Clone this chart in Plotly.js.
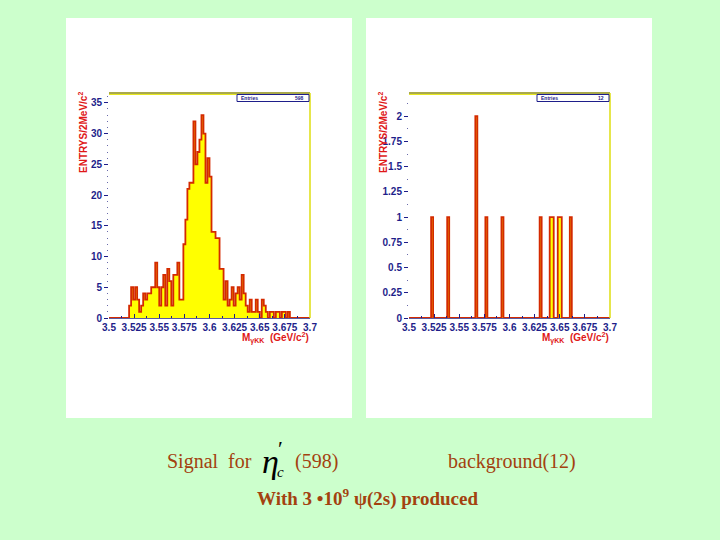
<!DOCTYPE html>
<html><head><meta charset="utf-8">
<script src="https://cdn.plot.ly/plotly-3.0.1.min.js"></script>
<style>html,body{margin:0;padding:0;background:#ccffcc;}#chart{width:720px;height:540px;}</style>
</head><body><div id="chart"></div>
<script>
// Binning: 100 bins of 2 MeV from 3.5 to 3.7 GeV/c^2
const binStart = 3.5;
const binWidth = 0.002;
// Signal histogram counts (598 entries)
const signalCounts = [
  0,0,0,0,0,0,0,0,0,0,
  2,5,3,5,3,1,2,4,3,4,
  4,5,5,9,5,2,5,7,2,8,
  6,2,7,7,9,3,3,12,16,21,
  22,22,32,25,27,29,33,30,22,26,
  23,14,14,13,13,8,8,3,6,2,
  3,5,2,4,5,3,7,4,2,1,
  3,1,1,3,1,0,3,2,1,0,
  1,1,0,1,1,0,1,1,0,1,
  0,0,0,0,0,0,0,0,0,0
];
// Background histogram counts (12 entries)
const backgroundCounts = [
  0,0,0,0,0,0,0,0,0,0,
  0,1,0,0,0,0,0,0,0,1,
  0,0,0,0,0,0,0,0,0,0,
  0,0,0,2,0,0,0,0,1,0,
  0,0,0,0,0,0,1,0,0,0,
  0,0,0,0,0,0,0,0,0,0,
  0,0,0,0,0,1,0,0,0,0,
  1,1,0,0,1,1,0,0,0,0,
  1,0,0,0,0,0,0,0,0,0,
  0,0,0,0,0,0,0,0,0,0
];
const xTickVals = [3.5,3.525,3.55,3.575,3.6,3.625,3.65,3.675,3.7];
const xTickLabels = ["3.5","3.525","3.55","3.575","3.6","3.625","3.65","3.675","3.7"];
const ySignalTicks = [0,5,10,15,20,25,30,35];
const yBgTicks = [0,0.25,0.5,0.75,1,1.25,1.5,1.75,2];
const yBgLabels = ["0","0.25","0.5","0.75","1","1.25","1.5","1.75","2"];
const signalEntries = "598";
const backgroundEntries = "12";

function stepTrace(counts, xa, ya) {
  const xs = [], ys = [];
  for (let i = 0; i < counts.length; i++) { xs.push(binStart + i * binWidth); ys.push(counts[i]); }
  xs.push(binStart + counts.length * binWidth); ys.push(counts[counts.length - 1]);
  return {x: xs, y: ys, type: 'scatter', mode: 'lines', line: {shape: 'hv', color: '#d42a00', width: 1.8},
    fill: 'tozeroy', fillcolor: '#ffff00', xaxis: xa, yaxis: ya, hoverinfo: 'skip', showlegend: false};
}

const W = 720, H = 540;
const px = v => v / W, py = v => 1 - v / H;
const navy = '#1e1e8a';
const tickFont = {family: 'Liberation Sans, Arial, sans-serif', size: 10, color: navy, weight: 700};
const red = '#e01818';
const brown = '#a3420f';

function xAxis(d0, d1, anchor) {
  return {domain: [px(d0), px(d1)], range: [3.5, 3.7], anchor: anchor, tickmode: 'array', tickvals: xTickVals, ticktext: xTickLabels,
    ticks: 'inside', ticklen: 4, tickcolor: navy, tickfont: tickFont, showgrid: false, zeroline: false,
    showline: true, linecolor: '#5a5aa0', linewidth: 1, layer: 'above traces', fixedrange: true,
    minor: {dtick: 0.0125, ticks: 'inside', ticklen: 2, tickcolor: navy}};
}
function yAxis(rng, tv, tt, minorD, anchor) {
  return {domain: [py(318), py(93)], range: rng, anchor: anchor, tickmode: 'array', tickvals: tv, ticktext: tt,
    ticks: 'outside', ticklen: 4, tickcolor: navy, tickfont: tickFont, showgrid: false, zeroline: false,
    showline: false, layer: 'above traces', fixedrange: true,
    minor: {dtick: minorD, ticks: 'outside', ticklen: 1, tickcolor: '#6a6aaa'}};
}

const traces = [stepTrace(signalCounts, 'x', 'y'), stepTrace(backgroundCounts, 'x2', 'y2')];

const shapes = [];
const annotations = [];
[[66, 352], [366, 652]].forEach(p => {
  shapes.push({type: 'rect', xref: 'paper', yref: 'paper', x0: px(p[0]), x1: px(p[1]), y0: py(418), y1: py(18),
    fillcolor: '#ffffff', line: {width: 0}, layer: 'below'});
});
[[109, 310, signalEntries], [409, 610, backgroundEntries]].forEach(p => {
  // frame top & right
  shapes.push({type: 'line', xref: 'paper', yref: 'paper', x0: px(p[0]), x1: px(p[1]), y0: py(93), y1: py(93), line: {color: '#8c8c10', width: 1.5}});
  shapes.push({type: 'line', xref: 'paper', yref: 'paper', x0: px(p[0]), x1: px(p[1]), y0: py(94.5), y1: py(94.5), line: {color: '#e8e820', width: 1}});
  shapes.push({type: 'line', xref: 'paper', yref: 'paper', x0: px(p[1]), x1: px(p[1]), y0: py(318), y1: py(93), line: {color: '#dede10', width: 1.5}});
  // stats box
  shapes.push({type: 'rect', xref: 'paper', yref: 'paper', x0: px(p[1] - 73), x1: px(p[1] - 1), y0: py(101.5), y1: py(94.5),
    fillcolor: '#ffffff', line: {color: navy, width: 1}});
  annotations.push({xref: 'paper', yref: 'paper', x: px(p[1] - 71), y: py(98), xanchor: 'left', yanchor: 'middle', showarrow: false,
    text: 'Entries', font: {family: 'Liberation Sans, Arial', size: 5, color: navy, weight: 700}});
  annotations.push({xref: 'paper', yref: 'paper', x: px(p[1] - 4), y: py(98), xanchor: 'right', yanchor: 'middle', showarrow: false,
    text: p[2], font: {family: 'Liberation Sans, Arial', size: 5, color: navy, weight: 700}});
  // y title
  annotations.push({xref: 'paper', yref: 'paper', x: px(p[0] - 26), y: py(133), xanchor: 'center', yanchor: 'middle', showarrow: false,
    textangle: -90, text: 'ENTRYS/2MeV/c<sup>2</sup>', font: {family: 'Liberation Sans, Arial', size: 10, color: red, weight: 700}});
  // x title
  annotations.push({xref: 'paper', yref: 'paper', x: px(p[1] + 1), y: py(337.5), xanchor: 'right', yanchor: 'middle', showarrow: false,
    text: 'M<sub>γKK</sub>  (GeV/c<sup>2</sup>)', font: {family: 'Liberation Sans, Arial', size: 10, color: red, weight: 700}});
});

const serif = 'Liberation Serif, Times New Roman, serif';
annotations.push({xref: 'paper', yref: 'paper', x: px(165), y: py(461), xanchor: 'left', yanchor: 'middle', showarrow: false,
  text: 'Signal  for', font: {family: serif, size: 20, color: brown}});
annotations.push({xref: 'paper', yref: 'paper', x: px(270), y: py(461), xanchor: 'center', yanchor: 'middle', showarrow: false,
  text: '<i>η</i>', font: {family: serif, size: 34, color: '#000000'}});
annotations.push({xref: 'paper', yref: 'paper', x: px(280), y: py(448), xanchor: 'center', yanchor: 'middle', showarrow: false,
  text: '′', font: {family: serif, size: 22, color: '#000000'}});
annotations.push({xref: 'paper', yref: 'paper', x: px(280), y: py(472), xanchor: 'center', yanchor: 'middle', showarrow: false,
  text: '<i>c</i>', font: {family: serif, size: 15, color: '#000000'}});
annotations.push({xref: 'paper', yref: 'paper', x: px(293), y: py(461), xanchor: 'left', yanchor: 'middle', showarrow: false,
  text: '(' + signalEntries + ')', font: {family: serif, size: 20, color: brown}});
annotations.push({xref: 'paper', yref: 'paper', x: px(446), y: py(461), xanchor: 'left', yanchor: 'middle', showarrow: false,
  text: 'background(' + backgroundEntries + ')', font: {family: serif, size: 20, color: brown}});
annotations.push({xref: 'paper', yref: 'paper', x: px(255), y: py(497), xanchor: 'left', yanchor: 'middle', showarrow: false,
  text: 'With 3 •10<sup>9</sup> ψ(2s) produced', font: {family: serif, size: 19, color: brown, weight: 700}});

const layout = {
  width: W, height: H, margin: {l: 0, r: 0, t: 0, b: 0}, paper_bgcolor: '#ccffcc', plot_bgcolor: 'rgba(0,0,0,0)',
  showlegend: false,
  xaxis: xAxis(109, 310, 'y'),
  yaxis: yAxis([0, 36.6], ySignalTicks, ySignalTicks.map(String), 1, 'x'),
  xaxis2: xAxis(409, 610, 'y2'),
  yaxis2: yAxis([0, 2.23], yBgTicks, yBgLabels, 0.125, 'x2'),
  shapes: shapes, annotations: annotations
};
Plotly.newPlot('chart', traces, layout, {displayModeBar: false, staticPlot: true});
</script></body></html>
